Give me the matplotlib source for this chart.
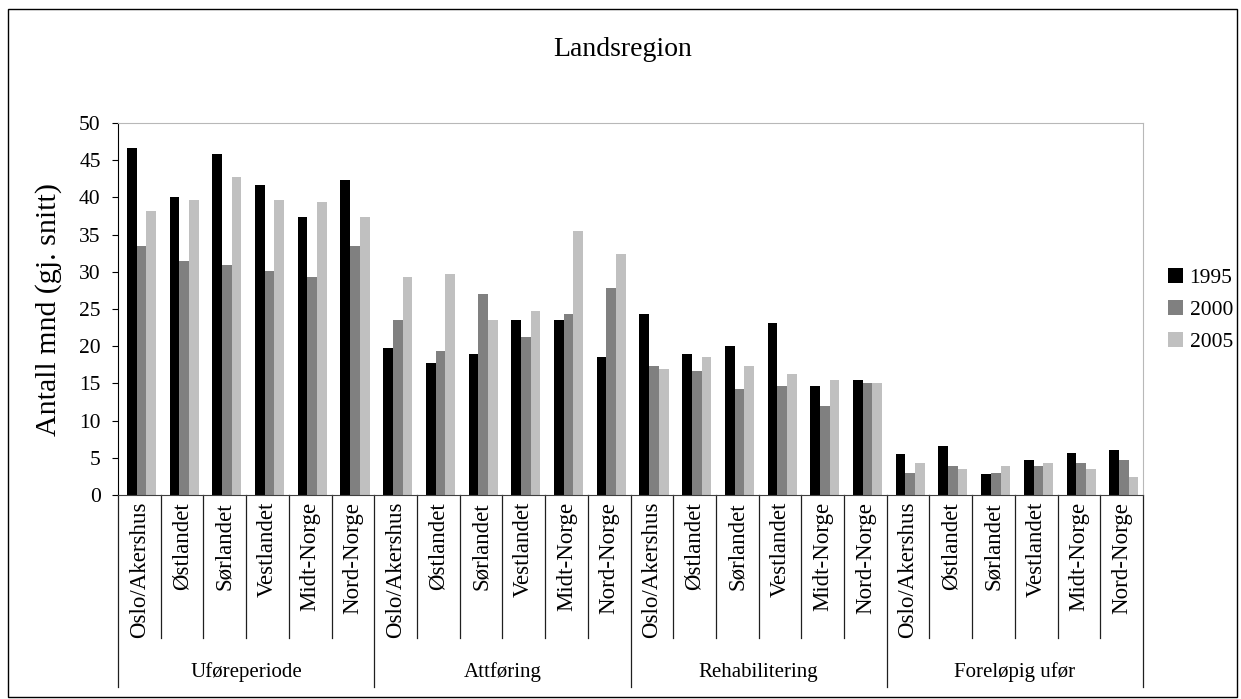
import matplotlib
matplotlib.use("Agg")
import matplotlib.pyplot as plt
import matplotlib.transforms as mtransforms
from matplotlib.patches import Rectangle
import numpy as np

plt.rcParams["font.family"] = ["Liberation Serif", "DejaVu Serif"]

groups = ["Uføreperiode", "Attføring", "Rehabilitering", "Foreløpig ufør"]
regions = ["Oslo/Akershus", "Østlandet", "Sørlandet", "Vestlandet", "Midt-Norge", "Nord-Norge"]
years = ["1995", "2000", "2005"]

# mean number of months, one value per (group, region)
v1995 = [46.6, 40.0, 45.8, 41.6, 37.4, 42.3,
         19.7, 17.7, 18.9, 23.5, 23.5, 18.5,
         24.3, 18.9, 20.0, 23.1, 14.6, 15.4,
         5.5, 6.6, 2.8, 4.7, 5.7, 6.1]
v2000 = [33.5, 31.5, 30.9, 30.1, 29.3, 33.5,
         23.5, 19.3, 27.0, 21.2, 24.3, 27.8,
         17.3, 16.6, 14.2, 14.6, 11.9, 15.0,
         3.0, 3.9, 3.0, 3.9, 4.3, 4.7]
v2005 = [38.2, 39.7, 42.7, 39.7, 39.4, 37.4,
         29.3, 29.7, 23.5, 24.7, 35.5, 32.4,
         16.9, 18.5, 17.3, 16.2, 15.4, 15.0,
         4.3, 3.5, 3.9, 4.3, 3.5, 2.4]

colors = ["#000000", "#808080", "#c0c0c0"]

fig = plt.figure(figsize=(12.41, 6.99), dpi=100)
W, H = 1241, 699
ax = fig.add_axes([118 / W, 1 - 495 / H, (1143 - 118) / W, (495 - 123) / H])

n = len(groups) * len(regions)
x = np.arange(n) + 0.5
bw = 0.227
for k, (vals, c) in enumerate(zip([v1995, v2000, v2005], colors)):
    ax.bar(x + (k - 1) * bw + 0.05, vals, width=bw, color=c, label=years[k], linewidth=0)

ax.set_xlim(0, n)
ax.set_ylim(0, 50)
ax.set_yticks(range(0, 51, 5))
ax.tick_params(axis="y", direction="out", length=4.5, width=0.8, pad=8, labelsize=15.5)
ax.set_xticks(x)
ax.set_xticklabels(regions * len(groups), rotation=90, fontsize=16.5)
ax.tick_params(axis="x", length=0, pad=5)

for side in ["top", "right"]:
    ax.spines[side].set_color("#b8b8b8")
ax.spines["left"].set_color("#000000")
ax.spines["bottom"].set_color("#404040")

ax.set_ylabel("Antall mnd (gj. snitt)", fontsize=21.5)
ax.yaxis.set_label_coords(-0.055, 0.5)

# category dividers under the axis
trans = mtransforms.blended_transform_factory(ax.transData, ax.transAxes)
for i in range(n + 1):
    bottom = -0.516 if i % len(regions) == 0 else -0.384
    ax.plot([i, i], [0, bottom], color="#202020", lw=0.9, transform=trans, clip_on=False)

for g, name in enumerate(groups):
    ax.text(g * len(regions) + len(regions) / 2, -0.476, name, transform=trans,
            ha="center", va="center", fontsize=15)

fig.text(623 / W, 1 - 50 / H, "Landsregion", ha="center", va="center", fontsize=20)

fig.legend(loc="center left", bbox_to_anchor=(1168 / W, 1 - 310 / H), frameon=False,
           fontsize=15.5, handlelength=0.7, handleheight=0.7, handletextpad=0.3,
           labelspacing=0.55, borderpad=0, borderaxespad=0)

fig.patches.append(Rectangle((8 / W, 2 / H), 1229 / W, 688 / H, transform=fig.transFigure,
                             fill=False, edgecolor="#000000", lw=1))

fig.savefig("out.png", dpi=100)
